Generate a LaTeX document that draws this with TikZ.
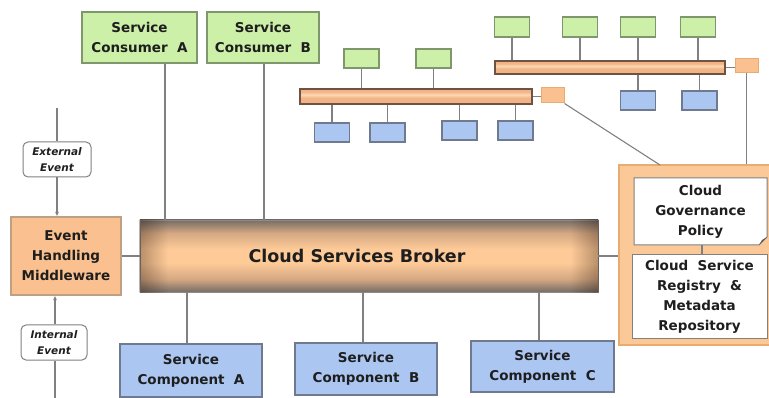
\documentclass[tikz,border=0pt]{standalone}
\usepackage{fontspec}
\setmainfont{DejaVu Sans}
\usetikzlibrary{arrows.meta,shapes.misc}

\definecolor{greenfill}{RGB}{204,240,168}
\definecolor{greenline}{RGB}{128,150,108}
\definecolor{bluefill}{RGB}{172,198,242}
\definecolor{blueline}{RGB}{112,122,142}
\definecolor{orangefill}{RGB}{250,192,143}
\definecolor{orangeline}{RGB}{192,160,130}
\definecolor{panelfill}{RGB}{251,201,152}
\definecolor{panelline}{RGB}{232,172,112}
\definecolor{wire}{RGB}{128,128,128}
\definecolor{ink}{RGB}{30,30,30}
\definecolor{busedge}{RGB}{112,82,66}
\definecolor{busfill}{RGB}{240,180,134}
\definecolor{buslight}{RGB}{252,216,180}
\definecolor{bdark}{RGB}{118,108,102}
\definecolor{bmid}{RGB}{212,168,130}
\definecolor{blight}{RGB}{253,202,152}

% TikZ maps the band 25bp..75bp of a shading onto the filled path
\pgfdeclareverticalshading{brokershade}{100bp}{%
  color(0bp)=(bdark); color(25bp)=(bdark); color(34bp)=(bmid);
  color(45bp)=(blight); color(55bp)=(blight);
  color(66bp)=(bmid); color(75bp)=(bdark); color(100bp)=(bdark)}
\pgfdeclarehorizontalshading{brokeredge}{100bp}{%
  color(0bp)=(bdark); color(25bp)=(bdark); color(28bp)=(white);
  color(72bp)=(white); color(75bp)=(bdark); color(100bp)=(bdark)}
\pgfdeclareverticalshading{busshade}{100bp}{%
  color(0bp)=(busfill); color(25bp)=(busfill); color(45bp)=(busfill);
  color(56bp)=(buslight); color(66bp)=(busfill); color(75bp)=(busfill);
  color(100bp)=(busfill)}

\tikzset{
  txt/.style={font=\bfseries\fontsize{13.5}{20}\selectfont, text=ink, align=center},
  gbox/.style={draw=greenline, fill=greenfill, line width=1.1pt, inner sep=0pt},
  bbox/.style={draw=blueline, fill=bluefill, line width=1.1pt, inner sep=0pt},
  obox/.style={draw=orangeline, fill=orangefill, line width=1.1pt, inner sep=0pt},
  evbox/.style={draw=wire, fill=white, line width=1pt, rounded corners=5pt, inner sep=0pt,
    font=\bfseries\itshape\fontsize{10.5}{16}\selectfont, text=ink, align=center},
  bus/.style={draw=busedge, line width=1.6pt, shading=busshade, inner sep=0pt},
  tap/.style={draw=panelline, fill=orangefill, line width=1pt, inner sep=0pt},
  wirestyle/.style={draw=wire, line width=1.4pt},
  tip/.style={-{Latex[length=4.5pt,width=4pt]}}
}

\begin{document}
\begin{tikzpicture}[x=1pt,y=-1pt]
\useasboundingbox (0,0) rectangle (769,398);

% ---- central broker ----
\node[draw=bdark!80, line width=0.6pt, shading=brokershade, minimum width=458pt, minimum height=72pt, inner sep=0pt] (brk) at (369,256) {};
\shade[shading=brokeredge, blend mode=multiply, opacity=0.5] (brk.south west) rectangle (brk.north east);
\node[font=\bfseries\fontsize{17.5}{20}\selectfont, text=ink] (brklbl) at (357,256) {Cloud Services Broker};

% ---- consumers ----
\node[gbox, txt, minimum width=115pt, minimum height=51pt] (ca) at (139.5,37.5) {Service\\Consumer\ \ A};
\node[gbox, txt, minimum width=112pt, minimum height=51pt] (cb) at (263,37.5) {Service\\Consumer\ \ B};
\draw[wirestyle] (ca.south -| 165,0) -- (brk.north -| 165,0);
\draw[wirestyle] (cb.south -| 264,0) -- (brk.north -| 264,0);

% ---- components ----
\node[bbox, txt, minimum width=142pt, minimum height=53pt] (sa) at (191,370.5) {Service\\Component\ \ A};
\node[bbox, txt, minimum width=142pt, minimum height=52pt] (sb) at (366,369) {Service\\Component\ \ B};
\node[bbox, txt, minimum width=143pt, minimum height=51pt] (sc) at (542.5,366.5) {Service\\Component\ \ C};
\draw[wirestyle] (brk.south -| 187,0) -- (sa.north -| 187,0);
\draw[wirestyle] (brk.south -| 363,0) -- (sb.north -| 363,0);
\draw[wirestyle] (brk.south -| 539,0) -- (sc.north -| 539,0);

% ---- event handling ----
\node[obox, txt, minimum width=110pt, minimum height=78pt] (ehm) at (66,256) {Event\\Handling\\Middleware};
\node[evbox, minimum width=68pt, minimum height=35pt] (ext) at (57,159.5) {External\\Event};
\node[evbox, minimum width=66pt, minimum height=35pt] (int) at (54,342.5) {Internal\\Event};
\coordinate (extsrc) at (57,108);
\coordinate (intsrc) at (55,398);
\draw[wirestyle] (extsrc) -- (ext.north);
\draw[wirestyle, tip] (ext.south) -- (ehm.north -| ext.south);
\draw[wirestyle] (intsrc) -- (int.south -| intsrc);
\draw[wirestyle, tip] (int.north -| intsrc) -- (ehm.south -| intsrc);
\draw[wirestyle] (ehm.east) -- (brk.west);

% ---- governance / registry panel ----
\node[draw=panelline, fill=panelfill, line width=1.2pt, minimum width=152pt, minimum height=180pt, inner sep=0pt] (panel) at (695,255) {};
\coordinate (govnw) at (634,178);
\coordinate (govse) at (767,245);
\draw[draw=wire, fill=white, line width=1pt]
  (govnw) -- (govnw -| govse) -- ([yshift=8pt]govse) -- ([xshift=-8pt]govse) -- (govse -| govnw) -- cycle;
\fill[ink!75] ([yshift=8pt]govse) -- ([xshift=-8pt]govse) -- ([xshift=-5pt,yshift=5pt]govse) -- cycle;
\node[txt, minimum width=133pt, minimum height=67pt, inner sep=0pt] (gov) at (700.5,211.5) {Cloud\\Governance\\Policy};
\node[draw=wire, fill=white, line width=1pt, txt, minimum width=135pt, minimum height=83pt, inner sep=0pt] (reg) at (699.5,296.5) {Cloud\ \ Service\\Registry\ \ \&\\Metadata\\Repository};
\draw[wirestyle, line width=1.1pt] (gov.south -| 702,0) -- (reg.north -| 702,0);
\draw[wirestyle] (brk.east) -- (panel.west |- brk.east);

% ---- upper bus ----
\node[bus, minimum width=230pt, minimum height=13pt] (ubus) at (610,67.5) {};
\node[tap, minimum width=23pt, minimum height=14pt] (utap) at (746.5,66) {};
\draw[wire, line width=1pt] (ubus.east) -- (utap.west |- ubus.east);
\draw[wirestyle] (utap.south) -- (panel.north -| utap.south);
\foreach \n/\cx in {1/512,2/580,3/638,4/698}{
  \node[gbox, minimum width=35pt, minimum height=20pt] (ug\n) at (\cx,27) {};
  \draw[wirestyle] (ug\n.south) -- (ubus.north -| ug\n.south);
}
\foreach \n/\cx in {1/638,2/699.5}{
  \node[bbox, minimum width=35pt, minimum height=19pt] (ub\n) at (\cx,100.5) {};
  \draw[wirestyle] (ubus.south -| ub\n.north) -- (ub\n.north);
}

% ---- lower bus ----
\node[bus, minimum width=232pt, minimum height=15pt] (lbus) at (416,96.5) {};
\node[tap, minimum width=23pt, minimum height=15pt] (ltap) at (552.5,95.5) {};
\draw[wire, line width=1pt] (lbus.east) -- (ltap.west |- lbus.east);
\coordinate (panelhook) at (660,165);
\draw[wire, line width=1.1pt] (ltap.south east) -- (panelhook);
\foreach \n/\cx in {1/361.5,2/433.5}{
  \node[gbox, minimum width=35pt, minimum height=19pt] (lg\n) at (\cx,58.5) {};
  \draw[wirestyle] (lg\n.south) -- (lbus.north -| lg\n.south);
}
\foreach \n/\cx/\cy in {1/332/132.5,2/387.5/132.5,3/459.5/130.5,4/515.5/130.5}{
  \node[bbox, minimum width=35pt, minimum height=19pt] (lb\n) at (\cx,\cy) {};
  \draw[wirestyle] (lbus.south -| lb\n.north) -- (lb\n.north);
}
\end{tikzpicture}
\end{document}
